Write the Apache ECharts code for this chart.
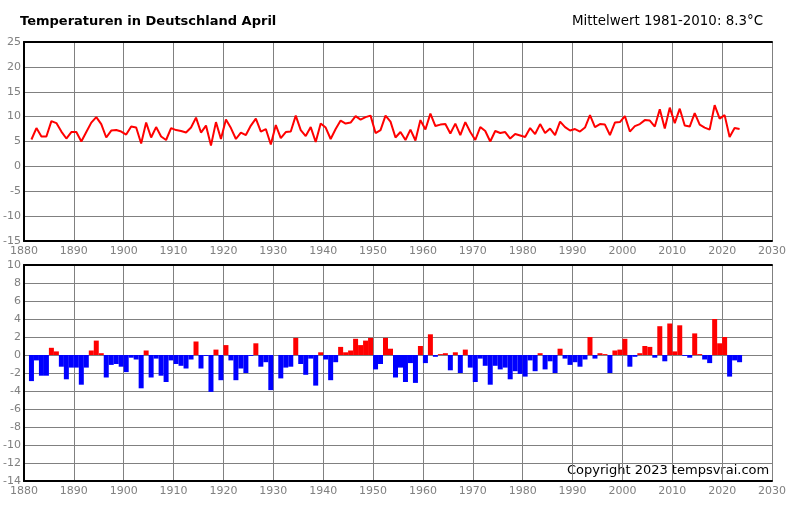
<!DOCTYPE html>
<html>
<head>
<meta charset="utf-8">
<script src="https://cdn.jsdelivr.net/npm/echarts@6/dist/echarts.min.js"></script>
<style>
html,body{margin:0;padding:0;background:#fff;}
#c{width:795px;height:510px;}
</style>
</head>
<body>
<div id="c"></div>
<script>
// ---- data ----
const firstYear = 1881;
const titleText = 'Temperaturen in Deutschland April';
const meanText = 'Mittelwert 1981-2010: 8.3°C';
const copyrightText = 'Copyright 2023 tempsvrai.com';

// April mean temperature (°C), 1881–2023
const temps = [
  5.4, 7.7, 6.0, 6.0, 9.1, 8.7, 7.0, 5.6, 6.9, 6.9,
  5.0, 6.9, 8.8, 9.9, 8.5, 5.8, 7.2, 7.3, 7.0, 6.4,
  8.0, 7.8, 4.6, 8.8, 5.8, 7.9, 6.0, 5.3, 7.7, 7.3,
  7.1, 6.8, 7.8, 9.8, 6.8, 8.2, 4.2, 8.9, 5.5, 9.4,
  7.7, 5.5, 6.8, 6.3, 8.2, 9.6, 7.0, 7.5, 4.4, 8.3,
  5.7, 6.9, 7.0, 10.2, 7.3, 6.1, 7.9, 4.9, 8.6, 7.8,
  5.5, 7.5, 9.2, 8.6, 8.8, 10.1, 9.4, 9.9, 10.2, 6.7,
  7.3, 10.2, 9.0, 5.8, 6.9, 5.3, 7.4, 5.2, 9.3, 7.4,
  10.6, 8.1, 8.4, 8.5, 6.6, 8.6, 6.3, 8.9, 6.9, 5.3,
  7.9, 7.1, 5.0, 7.1, 6.7, 6.9, 5.6, 6.5, 6.2, 5.9,
  7.7, 6.5, 8.5, 6.7, 7.6, 6.3, 9.0, 7.9, 7.2, 7.5,
  7.0, 7.8, 10.3, 7.9, 8.5, 8.4, 6.3, 8.8, 8.9, 10.1,
  7.0, 8.1, 8.5, 9.3, 9.2, 8.0, 11.5, 7.6, 11.8, 8.7,
  11.6, 8.2, 8.0, 10.7, 8.4, 7.8, 7.4, 12.3, 9.6, 10.3,
  5.9, 7.7, 7.5
];

// Deviation from the 1981–2010 mean (°C)
const anomalies = [
  -2.9, -0.6, -2.3, -2.3, 0.8, 0.4, -1.3, -2.7, -1.4, -1.4,
  -3.3, -1.4, 0.5, 1.6, 0.2, -2.5, -1.1, -1.0, -1.3, -1.9,
  -0.3, -0.5, -3.7, 0.5, -2.5, -0.4, -2.3, -3.0, -0.6, -1.0,
  -1.2, -1.5, -0.5, 1.5, -1.5, -0.1, -4.1, 0.6, -2.8, 1.1,
  -0.6, -2.8, -1.5, -2.0, -0.1, 1.3, -1.3, -0.8, -3.9, 0.0,
  -2.6, -1.4, -1.3, 1.9, -1.0, -2.2, -0.4, -3.4, 0.3, -0.5,
  -2.8, -0.8, 0.9, 0.3, 0.5, 1.8, 1.1, 1.6, 1.9, -1.6,
  -1.0, 1.9, 0.7, -2.5, -1.4, -3.0, -0.9, -3.1, 1.0, -0.9,
  2.3, -0.2, 0.1, 0.2, -1.7, 0.3, -2.0, 0.6, -1.4, -3.0,
  -0.4, -1.2, -3.3, -1.2, -1.6, -1.4, -2.7, -1.8, -2.1, -2.4,
  -0.6, -1.8, 0.2, -1.6, -0.7, -2.0, 0.7, -0.4, -1.1, -0.8,
  -1.3, -0.5, 2.0, -0.4, 0.2, 0.1, -2.0, 0.5, 0.6, 1.8,
  -1.3, -0.2, 0.2, 1.0, 0.9, -0.3, 3.2, -0.7, 3.5, 0.4,
  3.3, -0.1, -0.3, 2.4, 0.1, -0.5, -0.9, 4.0, 1.3, 2.0,
  -2.4, -0.6, -0.8
];

const years = temps.map((_, i) => firstYear + i);
const xRange = [1880, 2030, 10];
const yTopRange = [-15, 25, 5];
const yBottomRange = [-14, 10, 2];

// ---- chart ----
const FONT = 'DejaVu Sans';
const LABEL_COLOR = '#808080';
const GRID_COLOR = '#808080';

function xAxisMain(gridIndex) {
  return {
    type: 'value', gridIndex, position: 'bottom',
    min: xRange[0], max: xRange[1], interval: xRange[2],
    axisLine: { show: true, onZero: false, lineStyle: { color: '#000', width: 2 } },
    axisTick: { show: false },
    axisLabel: { color: LABEL_COLOR, fontSize: 11, fontFamily: FONT, margin: 5,
      formatter: v => String(v) },
    splitLine: { show: true, lineStyle: { color: GRID_COLOR, width: 1 } }
  };
}
function xAxisTop(gridIndex) {
  return {
    type: 'value', gridIndex, position: 'top',
    min: xRange[0], max: xRange[1], interval: xRange[2],
    axisLine: { show: true, onZero: false, lineStyle: { color: '#000', width: 2 } },
    axisTick: { show: false }, axisLabel: { show: false }, splitLine: { show: false }
  };
}
function yAxis(gridIndex, r) {
  return {
    type: 'value', gridIndex,
    min: r[0], max: r[1], interval: r[2],
    axisLine: { show: true, onZero: false, lineStyle: { color: '#000', width: 2 } },
    axisTick: { show: false },
    axisLabel: { color: LABEL_COLOR, fontSize: 11, fontFamily: FONT, margin: 3,
      formatter: v => String(v) },
    splitLine: { show: true, lineStyle: { color: GRID_COLOR, width: 1 } }
  };
}

const chart = echarts.init(document.getElementById('c'), null, { renderer: 'canvas' });
chart.setOption({
  animation: false,
  backgroundColor: '#fff',
  title: [
    { text: titleText, left: 20, top: 15, padding: 0,
      textStyle: { fontFamily: FONT, fontSize: 13, fontWeight: 'bold', color: '#000' } },
    { text: meanText, right: 32, top: 15, padding: 0,
      textStyle: { fontFamily: FONT, fontSize: 13.4, fontWeight: 'normal', color: '#000' } }
  ],
  grid: [
    { left: 22, top: 42, width: 750, height: 199 },
    { left: 22, top: 265, width: 750, height: 216 }
  ],
  xAxis: [xAxisMain(0), xAxisTop(0), xAxisMain(1), xAxisTop(1)],
  yAxis: [yAxis(0, yTopRange), yAxis(1, yBottomRange)],
  series: [
    {
      type: 'line', xAxisIndex: 0, yAxisIndex: 0,
      data: years.map((y, i) => [y + 0.5, temps[i]]),
      symbol: 'none', lineStyle: { color: '#ff0000', width: 2 }, z: 5
    },
    {
      type: 'bar', xAxisIndex: 2, yAxisIndex: 1,
      data: years.map((y, i) => [y + 0.5, anomalies[i]]),
      barWidth: 5,
      itemStyle: { color: p => (p.value[1] >= 0 ? '#ff0000' : '#0000ff') },
      z: 5
    }
  ],
  graphic: [
    {
      type: 'group', right: 23, bottom: 29, z: 100,
      children: [
        { type: 'rect', shape: { x: 0, y: 0, width: 208, height: 21 }, style: { fill: '#fff' } },
        { type: 'text', x: 3, y: 11, style: { text: copyrightText, font: '13px "DejaVu Sans"',
          fill: '#000', textVerticalAlign: 'middle', verticalAlign: 'middle' } }
      ]
    }
  ]
});
</script>
</body>
</html>
